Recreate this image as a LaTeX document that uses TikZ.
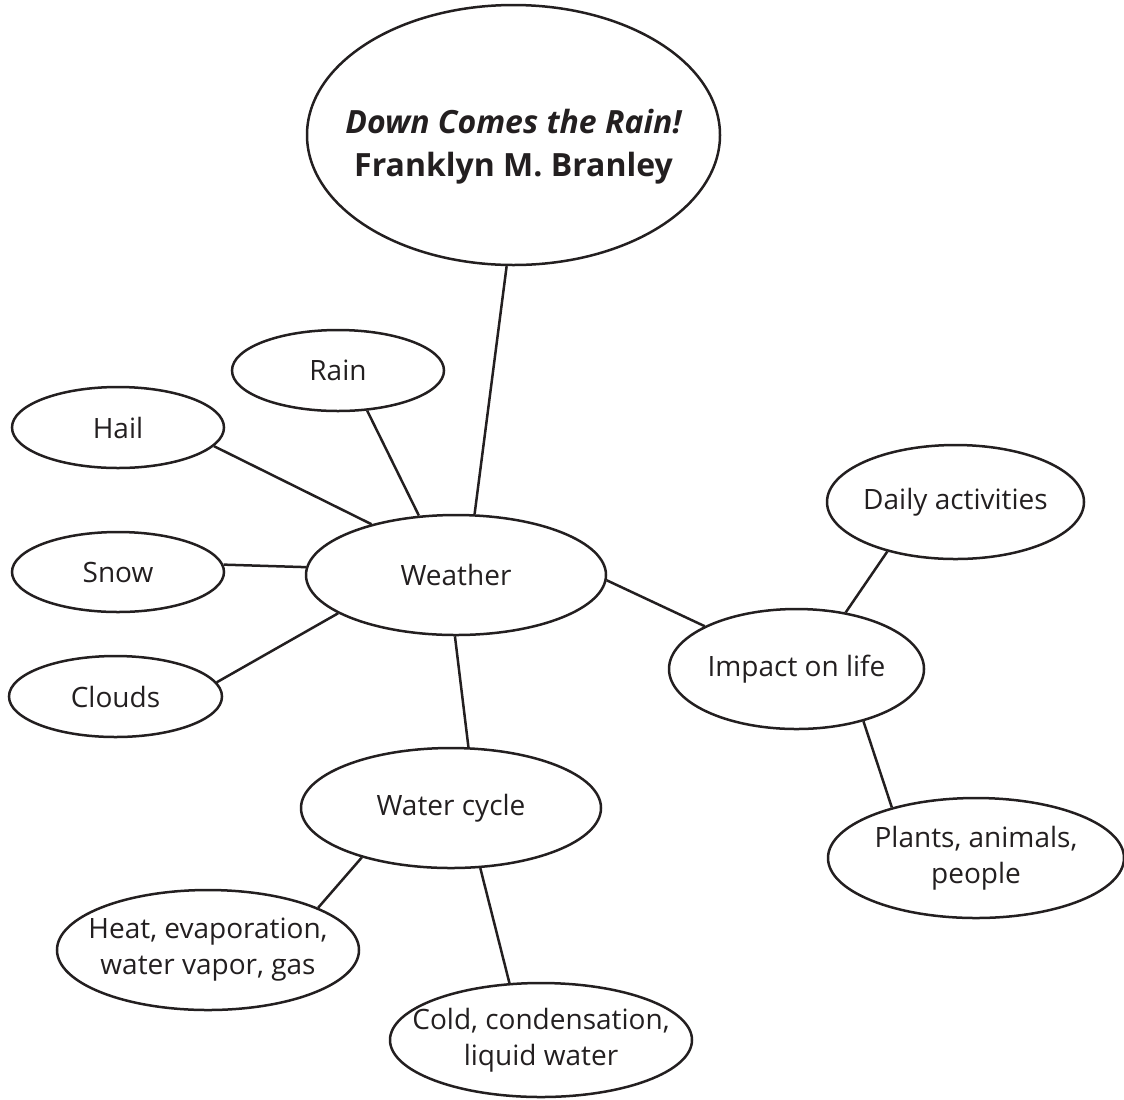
\documentclass[tikz,border=0pt]{standalone}
\usepackage{fontspec}
\setmainfont{Open Sans}
\usetikzlibrary{shapes.geometric}
\definecolor{ink}{HTML}{231F20}
\tikzset{
	bubble/.style 2 args={draw=ink, text=ink, ellipse, line width=1.25pt, inner xsep=-14pt, inner ysep=0pt, align=center,
		minimum width=#1, minimum height=#2, font=\fontsize{14}{18}\selectfont},
	link/.style={draw=ink, line width=1.25pt}
}
\begin{document}
\begin{tikzpicture}[x=0.5pt, y=-0.5pt]
		\useasboundingbox (0,0) rectangle (1124,1099);
		\node[bubble={206.5pt}{130pt}, label={[text=ink, align=center, yshift=-6pt, font=\fontsize{16}{21.5}\selectfont\bfseries]center:{\itshape Down Comes the Rain!}\\Franklyn M. Branley}] (book) at (513.5,135) {};
		\node[bubble={150pt}{60pt}] (weather) at (456,575) {Weather};
		\node[bubble={106pt}{40.5pt}] (rain) at (338,370.5) {Rain};
		\node[bubble={106pt}{40.5pt}] (hail) at (118,427.5) {Hail};
		\node[bubble={106pt}{40pt}] (snow) at (118,572) {Snow};
		\node[bubble={106.5pt}{40.5pt}] (clouds) at (115.5,696.5) {Clouds};
		\node[bubble={127.5pt}{60pt}] (impact) at (796.5,669) {Impact on life};
		\node[bubble={128.5pt}{57pt}] (daily) at (955.5,502) {Daily activities};
		\node[bubble={148pt}{60pt}] (plants) at (976,858) {Plants, animals,\\people};
		\node[bubble={150pt}{60pt}] (water) at (451,808) {Water cycle};
		\node[bubble={151pt}{60pt}] (heat) at (208,950) {Heat, evaporation,\\water vapor, gas};
		\node[bubble={151pt}{57pt}] (cold) at (541,1040) {Cold, condensation,\\liquid water};
		\draw[link] (book.267.6)--(weather.73.9);
		\draw[link] (rain.-54)--(weather.122.5);
		\draw[link] (hail.-11.6)--(weather.149.8);
		\draw[link] (snow.4.9)--(weather.177.7);
		\draw[link] (clouds.8.1)--(weather.198.3);
		\draw[link] (weather.358.1)--(impact.155.6);
		\draw[link] (impact.49.1)--(daily.216.1);
		\draw[link] (impact.-38.4)--(plants.149.5);
		\draw[link] (weather.269)--(water.74.2);
		\draw[link] (water.209.1)--(heat.21.4);
		\draw[link] (water.296.6)--(cold.119);
	\end{tikzpicture}
\end{document}
